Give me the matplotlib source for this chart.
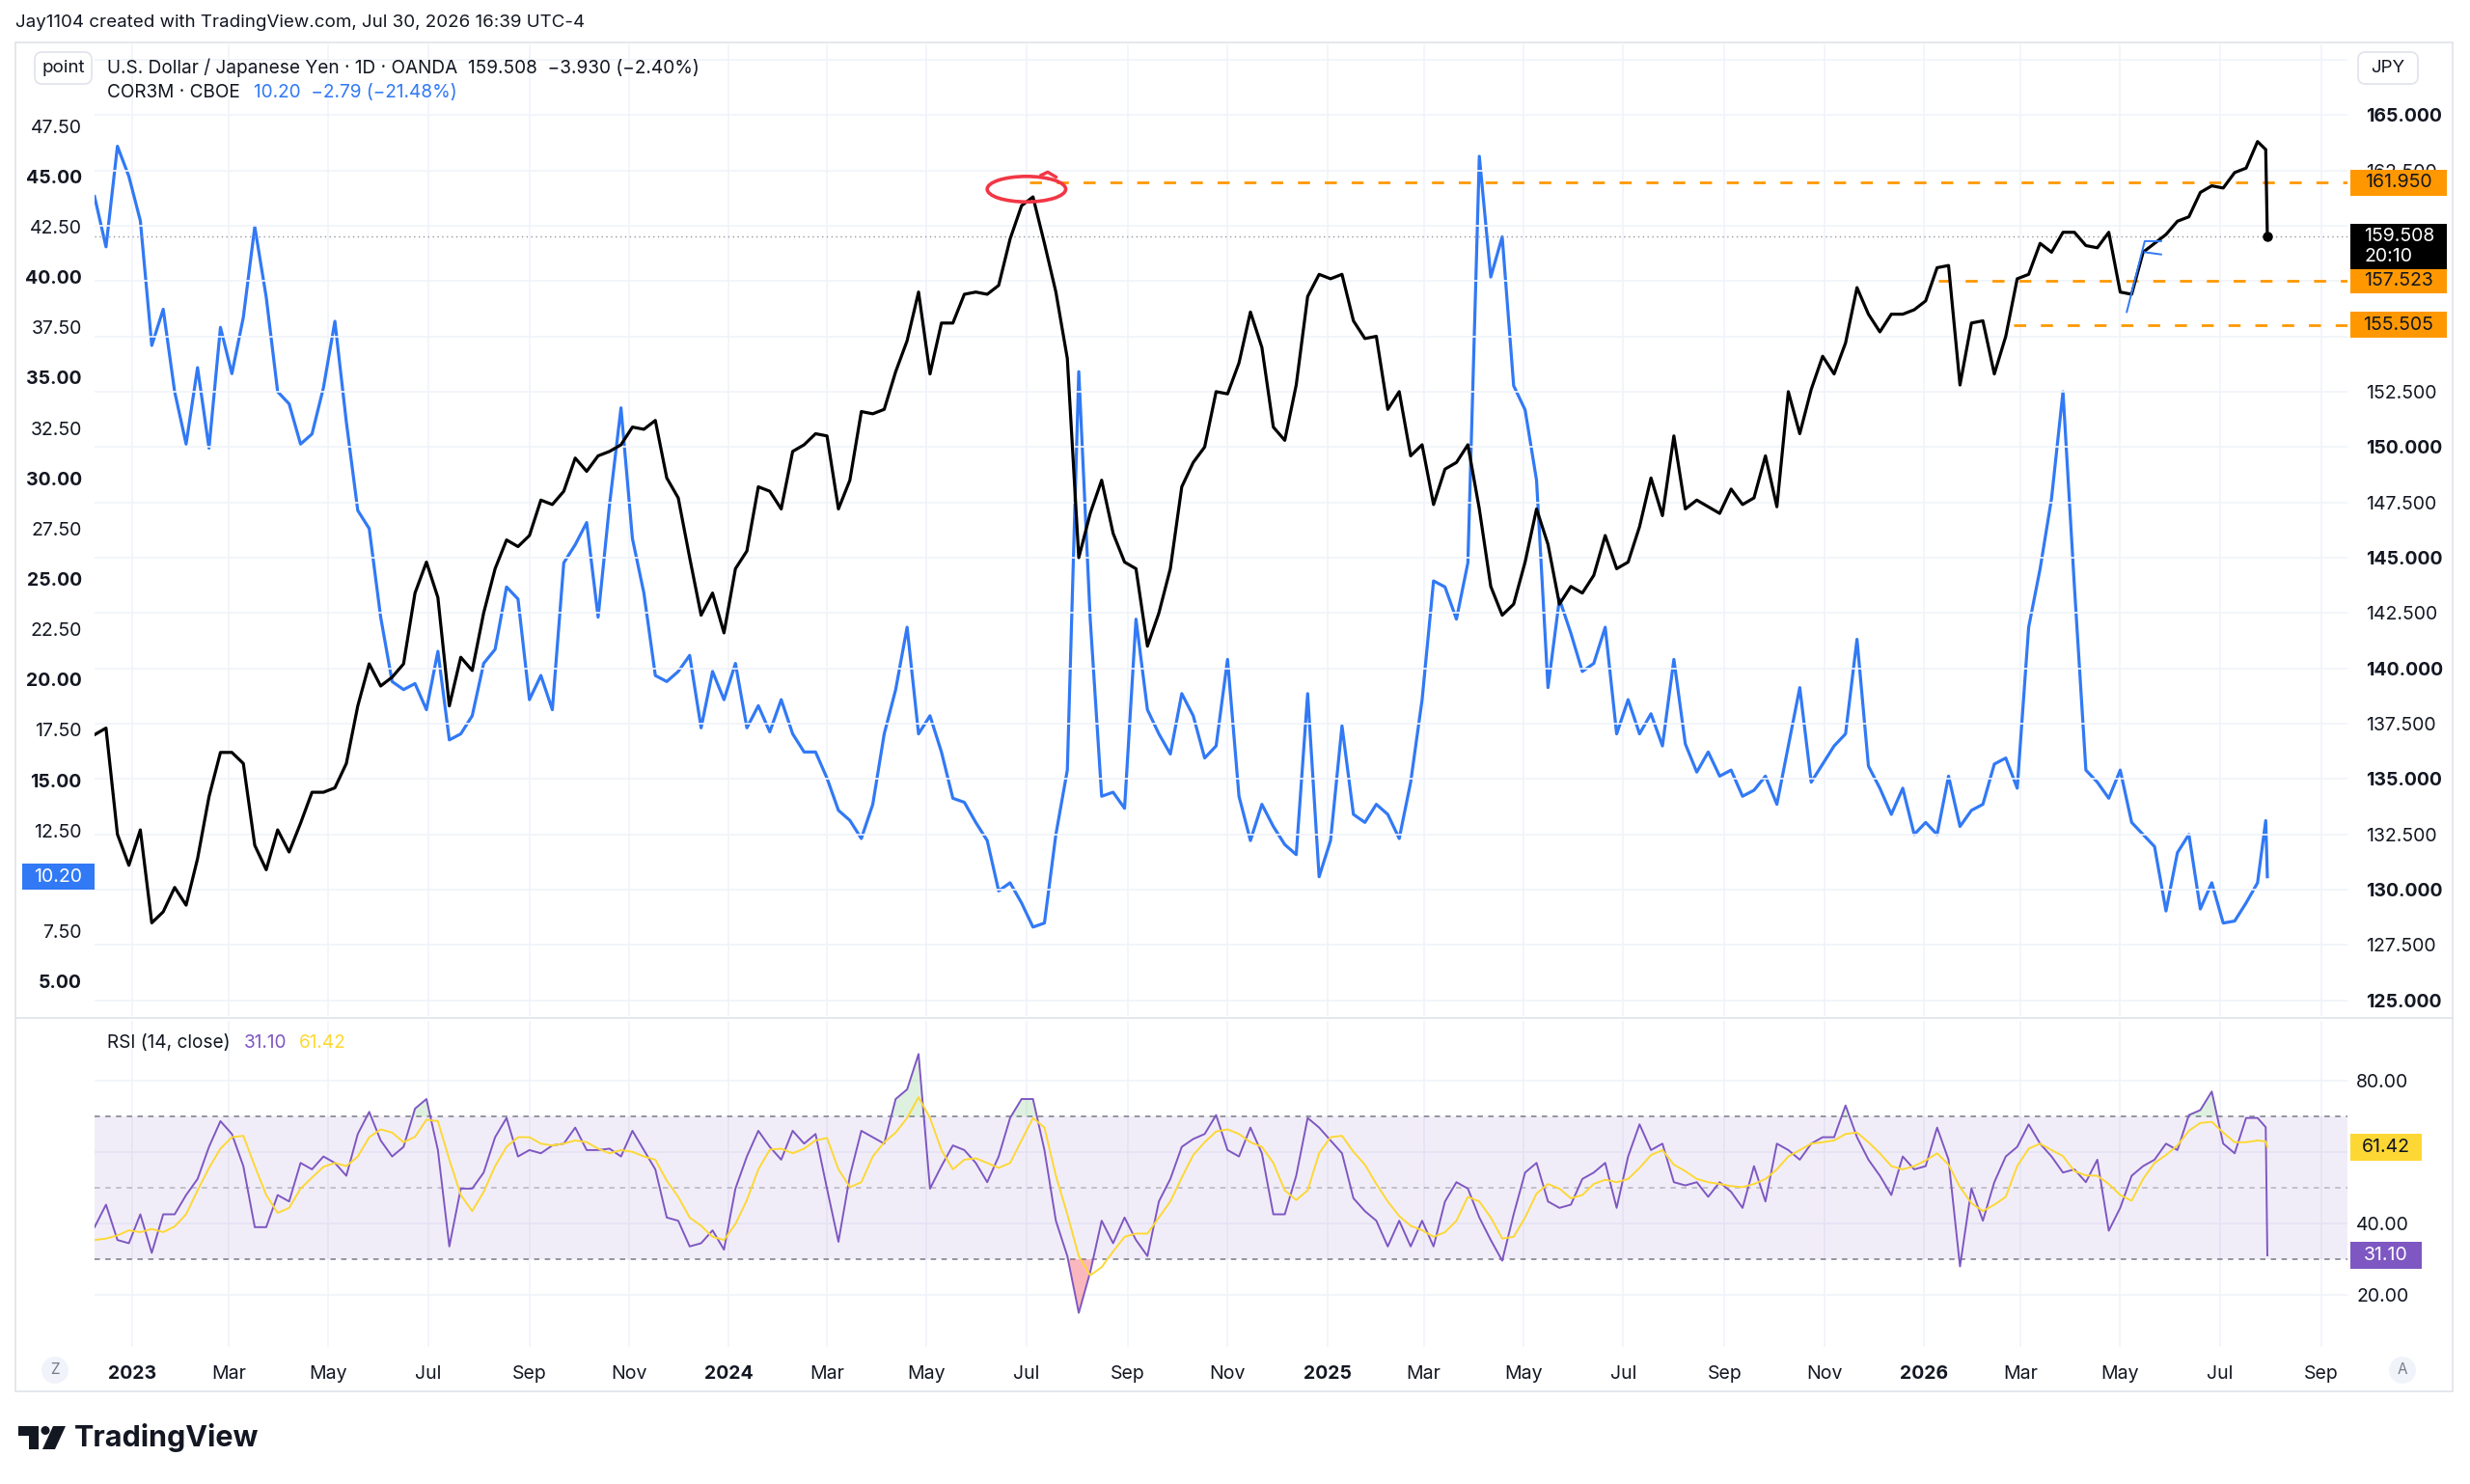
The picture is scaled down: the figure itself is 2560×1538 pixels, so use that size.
import matplotlib
matplotlib.use("Agg")
import matplotlib.pyplot as plt
import matplotlib.dates as mdates
from matplotlib.patches import Rectangle, FancyBboxPatch, Ellipse, Polygon
from matplotlib.lines import Line2D
import numpy as np
import pandas as pd

plt.rcParams["font.family"] = ["Inter", "DejaVu Sans"]
plt.rcParams["lines.scale_dashes"] = False

TXT = "#131722"
BLUE = "#3179F5"
ORANGE = "#FF9800"
PURPLE = "#7E57C2"
YELLOW = "#FDD835"
GRID = "#F0F3FA"
FRAME = "#E0E3EB"

# weekly closes from 2022-12-09 to 2026-07-24, then 2026-07-29 and 2026-07-30
usdjpy = [
    137.0, 137.3, 132.5, 131.1, 132.7, 128.5, 129.0, 130.1, 129.3, 131.4,
    134.2, 136.2, 136.2, 135.7, 132.0, 130.9, 132.7, 131.7, 133.0, 134.4,
    134.4, 134.6, 135.7, 138.3, 140.2, 139.2, 139.6, 140.2, 143.4, 144.8,
    143.2, 138.3, 140.5, 139.9, 142.5, 144.5, 145.8, 145.5, 146.0, 147.6,
    147.4, 148.0, 149.5, 148.9, 149.6, 149.8, 150.1, 150.9, 150.8, 151.2,
    148.6, 147.7, 145.0, 142.4, 143.4, 141.6, 144.5, 145.3, 148.2, 148.0,
    147.2, 149.8, 150.1, 150.6, 150.5, 147.2, 148.5, 151.6, 151.5, 151.7,
    153.4, 154.8, 157.0, 153.3, 155.6, 155.6, 156.9, 157.0, 156.9, 157.3,
    159.4, 160.9, 161.3, 159.2, 157.0, 154.0, 145.0, 147.0, 148.5, 146.1,
    144.8, 144.5, 141.0, 142.5, 144.5, 148.2, 149.3, 150.0, 152.5, 152.4,
    153.8, 156.1, 154.5, 150.9, 150.3, 152.8, 156.8, 157.8, 157.6, 157.8,
    155.7, 154.9, 155.0, 151.7, 152.5, 149.6, 150.1, 147.4, 149.0, 149.3,
    150.1, 147.2, 143.7, 142.4, 142.9, 144.8, 147.2, 145.6, 142.9, 143.7,
    143.4, 144.2, 146.0, 144.5, 144.8, 146.4, 148.6, 146.9, 150.5, 147.2,
    147.6, 147.3, 147.0, 148.1, 147.4, 147.7, 149.6, 147.3, 152.5, 150.6,
    152.6, 154.1, 153.3, 154.7, 157.2, 156.0, 155.2, 156.0, 156.0, 156.2,
    156.6, 158.1, 158.2, 152.8, 155.6, 155.7, 153.3, 155.0, 157.6, 157.8,
    159.2, 158.8, 159.7, 159.7, 159.1, 159.0, 159.7, 157.0, 156.9, 158.8,
    159.2, 159.6, 160.2, 160.4, 161.5, 161.8, 161.7, 162.4, 162.6, 163.8,
    163.44, 159.508,
]

cor3m = [
    44.0, 41.5, 46.5, 45.0, 42.8, 36.6, 38.4, 34.3, 31.7, 35.5,
    31.5, 37.5, 35.2, 38.0, 42.5, 39.0, 34.3, 33.7, 31.7, 32.2,
    34.5, 37.8, 32.8, 28.4, 27.5, 23.1, 19.9, 19.5, 19.8, 18.5,
    21.4, 17.0, 17.3, 18.2, 20.8, 21.5, 24.6, 24.0, 19.0, 20.2,
    18.5, 25.8, 26.7, 27.8, 23.1, 28.7, 33.5, 27.0, 24.3, 20.2,
    19.9, 20.4, 21.2, 17.6, 20.4, 19.0, 20.8, 17.6, 18.7, 17.4,
    19.0, 17.3, 16.4, 16.4, 15.1, 13.5, 13.0, 12.1, 13.8, 17.3,
    19.5, 22.6, 17.3, 18.2, 16.4, 14.1, 13.9, 12.9, 12.0, 9.5,
    9.9, 8.9, 7.7, 7.9, 12.3, 15.5, 35.3, 23.0, 14.2, 14.4,
    13.6, 23.0, 18.5, 17.3, 16.3, 19.3, 18.2, 16.1, 16.7, 21.0,
    14.2, 12.0, 13.8, 12.7, 11.8, 11.3, 19.3, 10.2, 12.0, 17.7,
    13.3, 12.9, 13.8, 13.3, 12.1, 14.9, 19.0, 24.9, 24.6, 23.0,
    25.8, 46.0, 40.0, 42.0, 34.6, 33.4, 29.9, 19.6, 24.0, 22.3,
    20.4, 20.8, 22.6, 17.3, 19.0, 17.3, 18.3, 16.7, 21.0, 16.8,
    15.4, 16.4, 15.2, 15.5, 14.2, 14.5, 15.2, 13.8, 16.7, 19.6,
    14.9, 15.8, 16.7, 17.3, 22.0, 15.7, 14.6, 13.3, 14.6, 12.3,
    12.9, 12.3, 15.2, 12.7, 13.5, 13.8, 15.8, 16.1, 14.6, 22.6,
    25.5, 29.0, 34.3, 24.6, 15.5, 14.9, 14.1, 15.5, 12.9, 12.3,
    11.7, 8.5, 11.4, 12.3, 8.6, 9.9, 7.9, 8.0, 8.9, 9.9,
    12.99, 10.20,
]

rsi = [
    39.0, 45.3, 35.4, 34.5, 42.6, 31.8, 42.6, 42.6, 48.0, 52.5,
    61.5, 68.7, 65.1, 56.1, 39.0, 39.0, 48.0, 46.2, 57.0, 55.2,
    58.8, 57.0, 53.4, 65.1, 71.3, 63.3, 58.8, 61.5, 72.2, 74.9,
    60.6, 33.6, 49.8, 49.8, 54.3, 64.2, 69.6, 58.8, 60.6, 59.7,
    61.9, 62.4, 66.9, 60.6, 60.6, 61.0, 58.8, 66.0, 60.6, 55.2,
    41.7, 40.8, 33.6, 34.5, 38.1, 32.7, 49.8, 58.8, 66.0, 61.5,
    57.9, 66.0, 62.4, 65.1, 49.8, 34.9, 53.4, 66.0, 64.2, 62.4,
    74.9, 77.6, 87.5, 49.8, 56.1, 61.9, 60.6, 57.0, 51.6, 58.8,
    69.6, 74.9, 74.9, 60.6, 40.8, 30.9, 15.0, 26.4, 40.8, 34.5,
    41.7, 35.4, 30.9, 46.2, 52.5, 61.5, 63.7, 65.1, 70.4, 60.6,
    58.8, 66.9, 59.7, 42.6, 42.6, 53.4, 69.6, 66.9, 63.3, 59.7,
    47.1, 43.5, 40.8, 33.6, 40.8, 33.6, 40.8, 33.6, 46.2, 51.6,
    49.8, 41.7, 35.4, 29.6, 42.6, 54.3, 57.0, 46.2, 44.4, 45.3,
    52.5, 54.3, 57.0, 44.4, 58.8, 67.8, 60.6, 62.4, 51.6, 50.7,
    51.6, 47.5, 51.6, 48.9, 44.4, 56.1, 46.2, 62.4, 60.6, 57.9,
    62.4, 64.2, 64.2, 73.1, 64.2, 57.9, 53.4, 48.0, 58.8, 55.2,
    56.1, 66.9, 57.9, 28.0, 49.8, 40.8, 51.6, 58.8, 61.5, 67.8,
    62.4, 58.8, 54.3, 55.2, 51.6, 57.9, 38.0, 44.4, 53.4, 56.1,
    57.9, 62.4, 60.6, 70.4, 71.8, 77.0, 62.4, 59.7, 69.6, 69.6,
    67.0, 31.10,
]

rsi_ma = [
    35.4, 35.8, 36.7, 38.1, 37.6, 38.5, 37.6, 39.2, 42.6, 49.3,
    55.6, 61.0, 64.2, 64.6, 56.1, 48.0, 43.0, 44.4, 49.8, 52.9,
    55.9, 57.0, 56.1, 58.8, 64.2, 66.4, 65.5, 62.8, 64.3, 69.1,
    68.7, 57.9, 48.0, 43.5, 48.9, 56.1, 61.5, 64.2, 64.2, 62.4,
    61.9, 62.4, 63.3, 62.8, 61.0, 59.7, 60.6, 60.1, 58.8, 57.9,
    52.0, 47.5, 41.7, 39.4, 36.3, 35.4, 39.9, 46.6, 55.2, 60.7,
    61.0, 59.7, 61.0, 63.3, 64.0, 55.2, 50.2, 51.6, 58.8, 62.8,
    65.5, 69.6, 75.4, 69.6, 60.6, 55.2, 57.9, 58.3, 57.0, 55.6,
    57.0, 63.3, 69.6, 66.9, 53.4, 42.6, 30.9, 25.5, 27.8, 32.2,
    36.3, 37.2, 37.2, 41.7, 46.2, 52.9, 59.2, 62.8, 65.8, 66.4,
    65.1, 62.8, 61.5, 57.0, 49.3, 46.6, 49.3, 59.7, 64.2, 64.6,
    60.1, 56.5, 51.1, 46.2, 42.1, 39.4, 38.1, 36.3, 37.6, 40.8,
    47.5, 46.2, 41.7, 35.8, 36.3, 41.7, 48.4, 51.1, 49.8, 47.1,
    48.0, 51.1, 52.3, 51.6, 52.5, 55.6, 59.2, 60.6, 56.5, 54.7,
    52.5, 51.6, 51.1, 50.5, 50.2, 51.1, 52.5, 55.2, 58.8, 60.6,
    62.4, 62.8, 63.3, 65.1, 65.5, 62.8, 59.7, 56.1, 55.2, 56.1,
    57.7, 59.7, 56.5, 50.2, 45.7, 43.5, 45.3, 47.5, 56.1, 61.0,
    62.4, 60.6, 58.9, 54.7, 53.5, 53.4, 51.1, 48.0, 46.4, 52.5,
    57.0, 59.2, 61.9, 66.0, 68.2, 68.5, 65.5, 62.8, 62.8, 63.3,
    63.0, 61.42,
]

assert len(usdjpy) == len(cor3m) == len(rsi) == len(rsi_ma)

weekly = pd.date_range("2022-12-09", periods=len(usdjpy) - 2, freq="7D")
dates = weekly.append(pd.DatetimeIndex(["2026-07-29", "2026-07-30"]))

# horizontal levels drawn on the chart
levels = [161.950, 157.523, 155.505]
level_start = ["2024-07-03", "2026-01-10", "2026-02-25"]
last_price = usdjpy[-1]
last_cor = cor3m[-1]

# price-scale labels that the tags hide in the reference
jpy_ticks = [125, 127.5, 130, 132.5, 135, 137.5, 140, 142.5, 145, 147.5, 150, 152.5, 162.5, 165]
cor_ticks = [5, 7.5, 12.5, 15, 17.5, 20, 22.5, 25, 27.5, 30, 32.5, 35, 37.5, 40, 42.5, 45, 47.5]
rsi_ticks = [20, 40, 80]

# small blue trend-line drawing (May 2026)
draw_dates = ["2026-05-05", "2026-05-16", "2026-05-26"]
draw_vals = [156.1, 159.3, 159.3]
draw2_dates = ["2026-05-16", "2026-05-26"]
draw2_vals = [158.8, 158.7]

# ---------------------------------------------------------------- layout
W, H, DPI = 2560, 1538, 100
fig = plt.figure(figsize=(W / DPI, H / DPI), dpi=DPI, facecolor="white")


def fx(px):
    return px / W


def fy(py):
    return 1 - py / H


LEFT, RIGHT = 98, 2433
MAIN_TOP, MAIN_BOT = 46, 1053
RSI_TOP, RSI_BOT = 1058, 1396

ax_cor = fig.add_axes([fx(LEFT), fy(MAIN_BOT), (RIGHT - LEFT) / W, (MAIN_BOT - MAIN_TOP) / H])
ax_jpy = ax_cor.twinx()
ax_rsi = fig.add_axes([fx(LEFT), fy(RSI_BOT), (RIGHT - LEFT) / W, (RSI_BOT - RSI_TOP) / H])

xmin, xmax = pd.Timestamp("2022-12-09"), pd.Timestamp("2026-09-17")
for a in (ax_cor, ax_jpy, ax_rsi):
    a.set_xlim(xmin, xmax)
    for s in a.spines.values():
        s.set_visible(False)

ax_cor.set_ylim(3.28, 51.56)
ax_jpy.set_ylim(124.29, 168.19)
ax_rsi.set_ylim(5.43, 96.8)

# grid
month_ticks = pd.date_range("2023-01-01", "2026-09-01", freq="2MS")
month_labels = [str(d.year) if d.month == 1 else d.strftime("%b") for d in month_ticks]
for d in month_ticks:
    ax_cor.axvline(d, color=GRID, lw=1.2, zorder=0)
    ax_rsi.axvline(d, color=GRID, lw=1.2, zorder=0)

for v in np.arange(125, 168.1, 2.5):
    ax_jpy.axhline(v, color=GRID, lw=1.2, zorder=0)
for v in (20, 40, 60, 80):
    ax_rsi.axhline(v, color=GRID, lw=1.2, zorder=0)

# series
ax_cor.plot(dates, cor3m, color=BLUE, lw=2.3, zorder=3, solid_joinstyle="round")
ax_jpy.plot(dates, usdjpy, color="black", lw=2.3, zorder=4, solid_joinstyle="round")
ax_jpy.plot(dates[-1:], [last_price], "o", color="black", ms=6.5, zorder=5)

ax_jpy.axhline(last_price, color="#9598A1", lw=1, linestyle=(0, (1, 2.5)), zorder=2)

for lvl, start in zip(levels, level_start):
    ax_jpy.plot([pd.Timestamp(start), xmax], [lvl, lvl], color=ORANGE, lw=2,
                dashes=(9, 11), zorder=3)

ax_jpy.plot(pd.to_datetime(draw_dates), draw_vals, color=BLUE, lw=1.4, zorder=5)
ax_jpy.plot(pd.to_datetime(draw2_dates), draw2_vals, color=BLUE, lw=1.4, zorder=5)

ell = Ellipse((mdates.date2num(pd.Timestamp("2024-07-01")), 161.65), width=48, height=1.15,
              fill=False, edgecolor="#F23645", lw=2.6, zorder=6)
ax_jpy.add_patch(ell)
ax_jpy.plot([pd.Timestamp("2024-07-10"), pd.Timestamp("2024-07-14"), pd.Timestamp("2024-07-19")],
            [162.28, 162.42, 162.2], color="#F23645", lw=2.4, zorder=6)

# RSI pane
ax_rsi.axhspan(30, 70, color=PURPLE, alpha=0.1, lw=0, zorder=0)
ax_rsi.axhline(70, color="#787B86", lw=1.1, dashes=(4, 4), zorder=1)
ax_rsi.axhline(50, color="#787B86", lw=1.1, dashes=(4, 4), alpha=0.5, zorder=1)
ax_rsi.axhline(30, color="#787B86", lw=1.1, dashes=(4, 4), zorder=1)
r = np.array(rsi)
ax_rsi.fill_between(dates, 70, r, where=r > 70, interpolate=True, color="#4CAF50", alpha=0.18, lw=0)
ax_rsi.fill_between(dates, 30, r, where=r < 30, interpolate=True, color="#F23645", alpha=0.35, lw=0)
ax_rsi.plot(dates, rsi, color=PURPLE, lw=1.4, zorder=3)
ax_rsi.plot(dates, rsi_ma, color=YELLOW, lw=1.4, zorder=3)

# ticks
ax_jpy.set_yticks(jpy_ticks, labels=[f"{v:.3f}" for v in jpy_ticks])
ax_jpy.tick_params(axis="y", length=0, pad=13.5, labelsize=14, labelcolor=TXT)
for lbl, v in zip(ax_jpy.get_yticklabels(), jpy_ticks):
    lbl.set_fontweight("bold" if v % 5 == 0 else "normal")

ax_cor.set_yticks(cor_ticks, labels=[f"{v:.2f}" for v in cor_ticks])
ax_cor.tick_params(axis="y", length=0, pad=9.5, labelsize=14, labelcolor=TXT)
for lbl, v in zip(ax_cor.get_yticklabels(), cor_ticks):
    lbl.set_fontweight("bold" if v % 5 == 0 else "normal")
ax_cor.set_xticks(month_ticks)
ax_cor.tick_params(axis="x", length=0, labelbottom=False)

ax_rsi.yaxis.tick_right()
ax_rsi.set_yticks(rsi_ticks, labels=[f"{v:.2f}" for v in rsi_ticks])
ax_rsi.tick_params(axis="y", length=0, pad=6.5, labelsize=14, labelcolor=TXT)
ax_rsi.set_xticks(month_ticks, labels=month_labels)
ax_rsi.tick_params(axis="x", length=0, pad=14, labelsize=14, labelcolor=TXT)
for lbl, d in zip(ax_rsi.get_xticklabels(), month_ticks):
    lbl.set_fontweight("bold" if d.month == 1 else "normal")


# ---------------------------------------------------------------- tags
def tag(ax, value, text, face, fg, x0, x1, h=27):
    y = ax.transData.transform((mdates.date2num(xmin), value))[1] / H
    fig.add_artist(Rectangle((fx(x0), y - h / 2 / H), (x1 - x0) / W, h / H,
                             transform=fig.transFigure, facecolor=face, edgecolor="none", zorder=10))
    fig.text(fx((x0 + x1) / 2), y, text, ha="center", va="center", color=fg,
             fontsize=14, zorder=11)


tag(ax_jpy, levels[0], "161.950", ORANGE, TXT, 2436, 2536)
tag(ax_jpy, levels[1], "157.523", ORANGE, TXT, 2436, 2536)
tag(ax_jpy, levels[2], "155.505", ORANGE, TXT, 2436, 2536)

y_last = ax_jpy.transData.transform((mdates.date2num(xmin), last_price))[1]
fig.add_artist(Rectangle((fx(2436), (y_last - 34) / H), 100 / W, 47 / H,
                         transform=fig.transFigure, facecolor="black", edgecolor="none", zorder=10))
fig.text(fx(2450), y_last / H, f"{last_price:.3f}", ha="left", va="center",
         color="white", fontsize=14, zorder=11)
fig.text(fx(2450), (y_last - 21) / H, "20:10", ha="left", va="center",
         color="white", fontsize=14, zorder=11)

tag(ax_cor, last_cor, f"{last_cor:.2f}", BLUE, "white", 23, 98)
tag(ax_rsi, rsi_ma[-1], f"{rsi_ma[-1]:.2f}", YELLOW, TXT, 2436, 2510, h=28)
tag(ax_rsi, rsi[-1], f"{rsi[-1]:.2f}", PURPLE, "white", 2436, 2510, h=28)

# ---------------------------------------------------------------- frame and texts
fig.add_artist(Rectangle((fx(16), fy(1442)), (2542 - 16) / W, (1442 - 44) / H,
                         transform=fig.transFigure, fill=False, edgecolor=FRAME, lw=1.2, zorder=1))
fig.add_artist(Line2D([fx(16), fx(2542)], [fy(1055), fy(1055)], transform=fig.transFigure,
                      color=FRAME, lw=1.2, zorder=1))

fig.text(fx(16), fy(24), "Jay1104 created with TradingView.com, Jul 30, 2026 16:39 UTC-4",
         ha="left", va="center", fontsize=13.5, color=TXT)

for (bx0, bx1, label) in [(36, 95, "point"), (2444, 2506, "JPY")]:
    fig.add_artist(FancyBboxPatch((fx(bx0), fy(87)), (bx1 - bx0) / W, 33 / H,
                                  boxstyle="round,pad=0,rounding_size=0.003",
                                  mutation_aspect=W / H, transform=fig.transFigure,
                                  facecolor="white", edgecolor=FRAME, lw=1.2, zorder=9))
    fig.text(fx((bx0 + bx1) / 2), fy(70.5), label, ha="center", va="center",
             fontsize=13.5, color=TXT, zorder=10)

fig.text(fx(111), fy(70), "U.S. Dollar / Japanese Yen · 1D · OANDA  159.508  −3.930 (−2.40%)",
         ha="left", va="center", fontsize=13.7, color=TXT)
fig.text(fx(111), fy(96), "COR3M · CBOE", ha="left", va="center", fontsize=13.7, color=TXT)
fig.text(fx(263), fy(96), "10.20  −2.79 (−21.48%)", ha="left", va="center", fontsize=13.7, color=BLUE)

fig.text(fx(111), fy(1081), "RSI (14, close)", ha="left", va="center", fontsize=13.7, color=TXT)
fig.text(fx(253), fy(1081), "31.10", ha="left", va="center", fontsize=13.7, color=PURPLE)
fig.text(fx(310), fy(1081), "61.42", ha="left", va="center", fontsize=13.7, color=YELLOW)

for cx, letter in [(57, "Z"), (2490, "A")]:
    fig.add_artist(Ellipse((fx(cx), fy(1420)), 28 / W, 28 / H, transform=fig.transFigure,
                           facecolor="#F0F3FA", edgecolor="none", zorder=9))
    fig.text(fx(cx), fy(1420), letter, ha="center", va="center", fontsize=11,
             color="#787B86", zorder=10)

# TradingView logo
logo = [
    [(19, 1478), (40, 1478), (40, 1502), (30, 1502), (30, 1488), (19, 1488)],
    [(55, 1478), (68, 1478), (57, 1502), (44, 1502)],
]
for poly in logo:
    fig.add_artist(Polygon([(fx(px), fy(py)) for px, py in poly], closed=True,
                           transform=fig.transFigure, facecolor="#131722", edgecolor="none"))
fig.add_artist(Ellipse((fx(47), fy(1482.5)), 9 / W, 9 / H, transform=fig.transFigure,
                       facecolor="#131722", edgecolor="none"))
fig.text(fx(77), fy(1490), "TradingView", ha="left", va="center", fontsize=22,
         fontweight="bold", color="#131722")

fig.savefig("out.png", dpi=DPI, facecolor="white")
